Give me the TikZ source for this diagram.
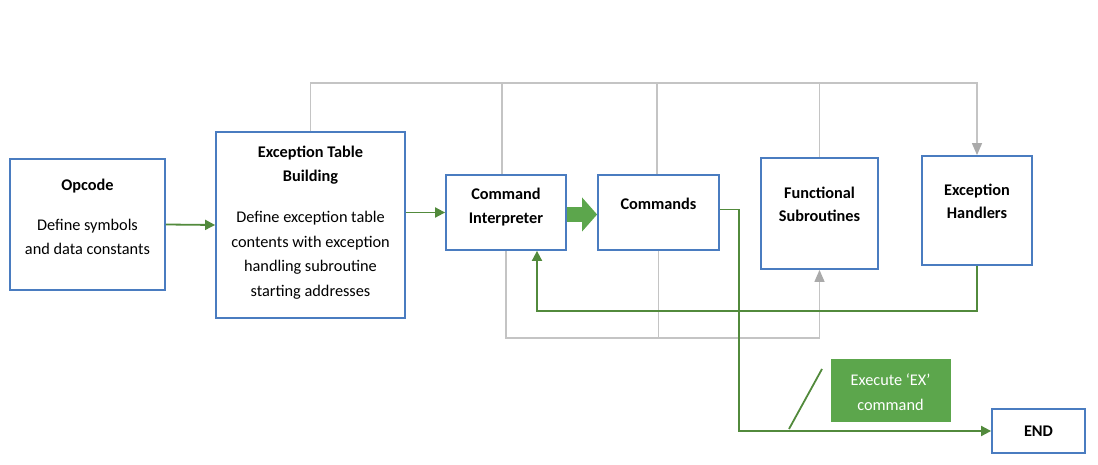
\documentclass[tikz,border=0pt]{standalone}
\usepackage{fontspec}
\setmainfont{Carlito}
\usetikzlibrary{arrows.meta}

\definecolor{boxblue}{RGB}{74,124,192}
\definecolor{linegreen}{RGB}{82,138,60}
\definecolor{fillgreen}{RGB}{92,166,76}
\definecolor{linegray}{RGB}{196,196,196}
\definecolor{tipgray}{RGB}{170,170,170}

\begin{document}
\begin{tikzpicture}[x=1pt,y=-1pt,
    blk/.style={draw=boxblue,line width=1.8pt,fill=white,inner sep=0pt},
    txt/.style={align=center,inner sep=0pt,font=\fontsize{16.3}{24.5}\selectfont},
    ttl/.style={align=center,inner sep=0pt,font=\fontsize{16.3}{23.5}\selectfont\bfseries},
    glink/.style={draw=linegreen,line width=1.8pt},
    gtip/.style={-{Triangle[length=10pt,width=10pt]}},
    graylink/.style={draw=linegray,line width=1.3pt},
    graytip/.style={-{Triangle[length=12pt,width=10pt,fill=tipgray,color=tipgray]}}]

        \useasboundingbox (0,0) rectangle (1098,465);

        \coordinate (top)      at (0,83);
        \coordinate (bot)      at (0,338);
        \coordinate (feedback) at (537,311);
        \coordinate (exit)     at (739,431);

        % boxes
        \node [blk,minimum width=155,minimum height=131] (opcode) at (87.5,224.5) {};
        \node [blk,minimum width=189,minimum height=186] (etb)    at (310.5,225) {};
        \node [blk,minimum width=120,minimum height=75]  (ci)     at (506,212.5) {};
        \node [blk,minimum width=121,minimum height=75]  (cmds)   at (658.5,212.5) {};
        \node [blk,minimum width=117,minimum height=111] (fs)     at (819.5,213.5) {};
        \node [blk,minimum width=110,minimum height=109] (eh)     at (977,210.5) {};
        \node [blk,minimum width=93,minimum height=44]   (end)    at (1038.5,431) {};
        \node [draw=fillgreen,fill=fillgreen,minimum width=119,minimum height=62] (ex) at (890.5,390) {};

        % texts
        \node [ttl] (opcodeT) at (87.5,186)  {Opcode};
        \node [txt] (opcodeB) at (87.5,237)  {Define symbols\\and data constants};
        \node [ttl] (etbT)    at (310.5,165) {Exception Table\\Building};
        \node [txt] (etbB)    at (310.5,255) {Define exception table\\contents with exception\\handling subroutine\\starting addresses};
        \node [ttl] (ciT)     at (506,207)   {Command\\Interpreter};
        \node [ttl] (cmdsT)   at (658.5,204) {Commands};
        \node [ttl] (fsT)     at (819.5,204.5) {Functional\\Subroutines};
        \node [ttl] (ehT)     at (977,201.5) {Exception\\Handlers};
        \node [ttl] (endT)    at (1038.5,431) {END};
        \node [txt,white] (exT) at (890.5,392) {Execute `EX'\\command};

        % gray links over the top
        \draw [graylink,graytip] (etb.north) |- (top -| eh.north) -- (eh.north);
        \draw [graylink] ([xshift=-4pt]ci.north) -- ([xshift=-4pt]ci.north |- top);
        \draw [graylink] ([xshift=-1.5pt]cmds.north) -- ([xshift=-1.5pt]cmds.north |- top);
        \draw [graylink] (fs.north) -- (fs.north |- top);

        % gray links underneath
        \draw [graylink,graytip] (ci.south) |- (bot -| fs.south) -- (fs.south);
        \draw [graylink] (cmds.south) -- (cmds.south |- bot);

        % green flow
        \draw [glink,gtip] (opcode.east) -- (etb.west);
        \draw [glink,gtip] (etb.east |- ci.west) -- (ci.west);
        \draw [draw=fillgreen,line width=15pt,-{Triangle[length=15pt,width=34pt,line width=0pt]}]
            ([yshift=-2pt]ci.east) -- ([yshift=-2pt]cmds.west);

        % back to the interpreter
        \draw [glink,gtip] (eh.south) |- (feedback) -- (feedback |- ci.south);

        % exit
        \draw [glink,gtip] ([yshift=3pt]cmds.east) -| (exit) -- (end.west);
        \draw [glink] (789,429) -- (822,369);

    \end{tikzpicture}
\end{document}
